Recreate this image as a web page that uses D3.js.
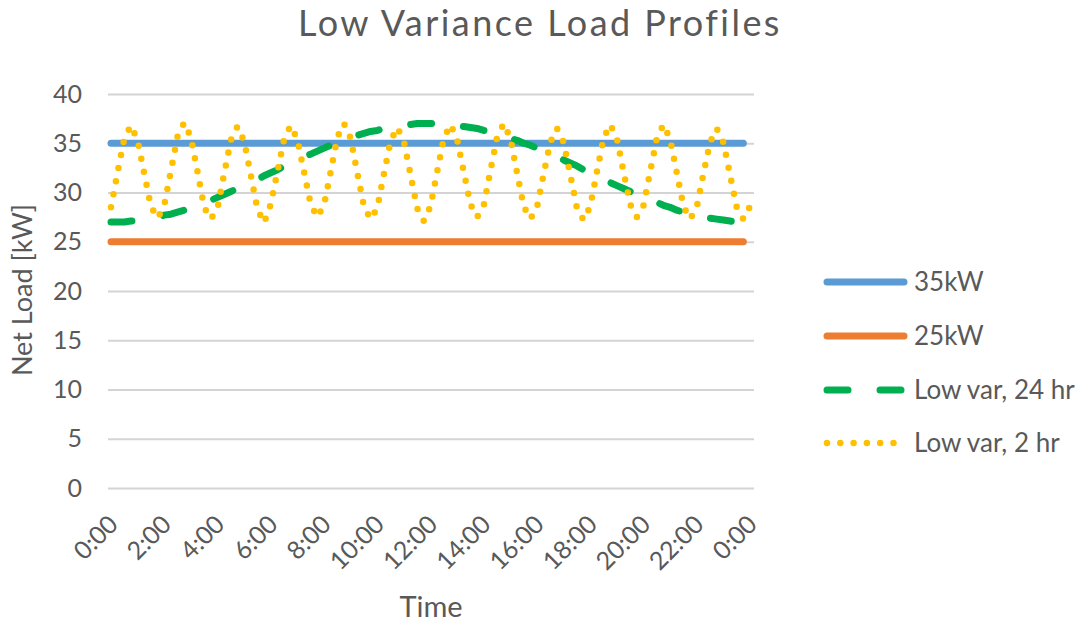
<!DOCTYPE html>
<html>
<head>
<meta charset="utf-8">
<script src="https://cdn.jsdelivr.net/npm/d3@7"></script>
<style>
  html, body { margin: 0; padding: 0; background: #fff; }
  svg { display: block; }
  text { font-family: Lato, "Open Sans", "Liberation Sans", sans-serif; fill: #595959; }
</style>
</head>
<body>
<svg id="chart" width="1090" height="624"></svg>
<script>
// ---------------- DATA ----------------
const chartTitle = "Low Variance Load Profiles";
const yTitle = "Net Load [kW]";
const xTitle = "Time";
const seriesNames = ["35kW", "25kW", "Low var, 24 hr", "Low var, 2 hr"];
const seriesColors = ["#5B9BD5", "#ED7D31", "#00B050", "#FFC000"];

// time categories: 15-minute steps (hours)
const timeHours = d3.range(0, 97).map(i => i * 0.25);   // 0:00 .. 24:00
const tickHours = [0, 2, 4, 6, 8, 10, 12, 14, 16, 18, 20, 22, 24];
const tickLabels = ["0:00", "2:00", "4:00", "6:00", "8:00", "10:00", "12:00",
                    "14:00", "16:00", "18:00", "20:00", "22:00", "0:00"];
const yTicks = [0, 5, 10, 15, 20, 25, 30, 35, 40];

// constant profiles (kW), 0:00 .. 23:45
const level35 = 35;
const level25 = 25;

// Low var, 24 hr (kW), 0:00 .. 23:45 every 15 min
const lowVar24 = [
  27.0, 27.0, 27.0, 27.1, 27.2, 27.3, 27.4, 27.5, 27.7, 27.8, 28.0, 28.2,
  28.5, 28.7, 29.0, 29.2, 29.5, 29.8, 30.1, 30.4, 30.7, 31.0, 31.3, 31.7,
  32.0, 32.3, 32.7, 33.0, 33.3, 33.6, 33.9, 34.2, 34.5, 34.8, 35.0, 35.3,
  35.5, 35.8, 36.0, 36.2, 36.3, 36.5, 36.6, 36.7, 36.8, 36.9, 37.0, 37.0,
  37.0, 37.0, 37.0, 36.9, 36.8, 36.7, 36.6, 36.5, 36.3, 36.2, 36.0, 35.8,
  35.5, 35.3, 35.0, 34.8, 34.5, 34.2, 33.9, 33.6, 33.3, 33.0, 32.7, 32.3,
  32.0, 31.7, 31.3, 31.0, 30.7, 30.4, 30.1, 29.8, 29.5, 29.2, 29.0, 28.7,
  28.5, 28.2, 28.0, 27.8, 27.7, 27.5, 27.4, 27.3, 27.2, 27.1, 27.0, 27.0
];

// Low var, 2 hr (kW), 0:00 .. 24:00 every 15 min
const lowVar2 = [
  28.5, 32.1, 35.5, 36.8, 35.3, 31.9, 28.6, 27.4,
  28.7, 32.2, 35.7, 37.1, 35.6, 32.1, 28.5, 27.3,
  28.4, 31.9, 35.3, 36.7, 35.2, 31.8, 28.3, 26.9,
  28.8, 32.1, 35.4, 36.8, 35.4, 32.1, 28.8, 27.5,
  28.7, 32.1, 35.6, 37.0, 35.5, 32.0, 28.6, 27.3,
  28.4, 31.9, 35.2, 36.6, 35.2, 31.8, 28.4, 27.1,
  28.6, 32.1, 35.5, 36.9, 35.4, 32.1, 28.8, 27.5,
  28.7, 32.2, 35.6, 37.0, 35.5, 32.0, 28.6, 27.3,
  28.5, 31.9, 35.1, 36.5, 35.1, 31.8, 28.4, 27.2,
  28.6, 32.1, 35.5, 36.9, 35.5, 32.1, 28.8, 27.5,
  28.7, 32.1, 35.5, 36.9, 35.4, 32.0, 28.6, 27.3,
  28.5, 31.9, 35.1, 36.5, 35.1, 31.8, 28.5, 27.3,
  28.6
];

// ---------------- LAYOUT ----------------
const svg = d3.select("#chart");
const plot = { left: 108, right: 754, top: 94, bottom: 488 };

const x = d3.scaleLinear().domain([0, 24]).range([111, 750]);
const y = d3.scaleLinear().domain([0, 40]).range([plot.bottom, plot.top]);

// stretch a text to a target width with letter spacing
function spreadText(sel, targetWidth) {
  const node = sel.node();
  const w = node.getComputedTextLength();
  const n = sel.text().length;
  if (w > 0 && n > 1) sel.attr("letter-spacing", ((targetWidth - w) / n).toFixed(2));
}

// Title
const title = svg.append("text")
  .attr("x", 540).attr("y", 36)
  .attr("text-anchor", "middle")
  .attr("font-size", 36)
  .text(chartTitle);
spreadText(title, 483);

// Y axis with gridlines
const yAxis = svg.append("g")
  .attr("transform", `translate(${plot.left},0)`)
  .call(d3.axisLeft(y).tickValues(yTicks)
    .tickSize(-(plot.right - plot.left)).tickPadding(26));
yAxis.select(".domain").remove();
yAxis.selectAll(".tick line").attr("stroke", "#D4D4D4").attr("stroke-width", 2);
yAxis.selectAll(".tick text")
  .attr("font-size", 25)
  .attr("fill", "#595959")
  .style("font-family", "Lato, 'Open Sans', sans-serif");

// X axis labels
const xAxis = svg.append("g")
  .attr("transform", `translate(0,${plot.bottom})`)
  .call(d3.axisBottom(x).tickValues(tickHours)
    .tickFormat((d, i) => tickLabels[i]).tickSize(0));
xAxis.select(".domain").remove();
xAxis.selectAll(".tick text")
  .attr("font-size", 25)
  .attr("fill", "#595959")
  .style("font-family", "Lato, 'Open Sans', sans-serif")
  .attr("text-anchor", "end")
  .attr("x", 0).attr("y", 0).attr("dy", 0)
  .attr("transform", "translate(8,38) rotate(-45)");

// Axis titles
svg.append("text")
  .attr("text-anchor", "middle")
  .attr("transform", "translate(32,290) rotate(-90)")
  .attr("font-size", 27)
  .text(yTitle);

svg.append("text")
  .attr("x", (plot.left + plot.right) / 2).attr("y", 617)
  .attr("text-anchor", "middle")
  .attr("font-size", 29)
  .text(xTitle);

// ---------------- SERIES ----------------
const line = d3.line().x(d => x(d.t)).y(d => y(d.v));

const data35 = timeHours.slice(0, 96).map(t => ({ t, v: level35 }));
const data25 = timeHours.slice(0, 96).map(t => ({ t, v: level25 }));
const data24 = lowVar24.map((v, i) => ({ t: timeHours[i], v }));
const data2 = lowVar2.map((v, i) => ({ t: timeHours[i], v }));

const styles = [
  { w: 7, dash: null },
  { w: 7, dash: null },
  { w: 7, dash: "21,32" },
  { w: 6.5, dash: "0,13.3" }
];
const allData = [data35, data25, data24, data2];

allData.forEach((d, i) => {
  svg.append("path")
    .datum(d)
    .attr("d", line)
    .attr("fill", "none")
    .attr("stroke", seriesColors[i])
    .attr("stroke-width", styles[i].w)
    .attr("stroke-linecap", "round")
    .attr("stroke-linejoin", "round")
    .attr("stroke-dasharray", styles[i].dash);
});

// ---------------- LEGEND ----------------
const legendY = [282, 336, 390, 443];
const legend = svg.append("g");
seriesNames.forEach((name, i) => {
  legend.append("line")
    .attr("x1", 827).attr("x2", 904)
    .attr("y1", legendY[i]).attr("y2", legendY[i])
    .attr("stroke", seriesColors[i])
    .attr("stroke-width", styles[i].w)
    .attr("stroke-linecap", "round")
    .attr("stroke-dasharray", styles[i].dash);
  legend.append("text")
    .attr("x", 914).attr("y", legendY[i])
    .attr("dy", "0.36em")
    .attr("font-size", 26)
    .text(name);
});
</script>
</body>
</html>
